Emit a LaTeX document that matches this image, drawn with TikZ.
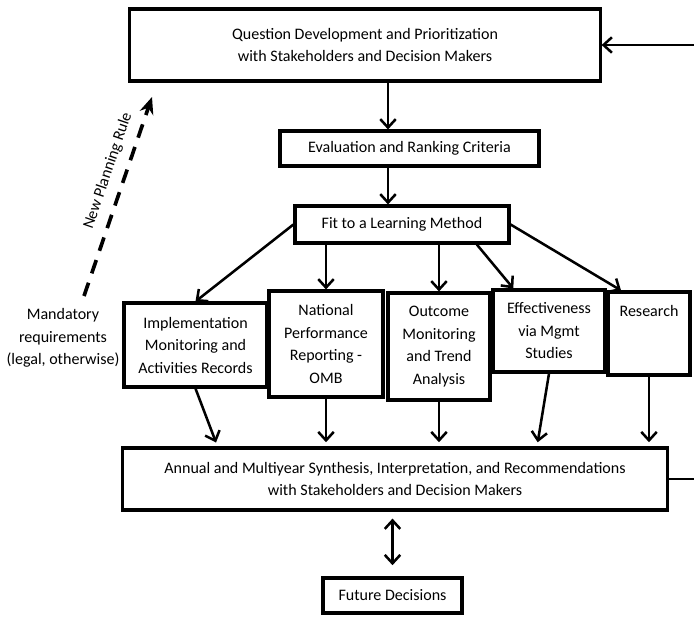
\documentclass[tikz,border=0pt]{standalone}
\usepackage{fontspec}
\setmainfont{Carlito}
\usetikzlibrary{arrows.meta}

\begin{document}
\begin{tikzpicture}[x=0.025cm, y=-0.025cm,
  >={Straight Barb[length=6pt,width=11pt]},
  box/.style={draw, line width=2.2pt, align=center, inner sep=0pt, font=\fontsize{11.4}{16}\selectfont},
  arr/.style={->, line width=1.8pt}]
\useasboundingbox (0,0) rectangle (694,616);
\clip (0,0) rectangle (694,616);

\node[box, minimum width=11.75cm, minimum height=1.8cm] (Question) at (365,45) {Question Development and Prioritization\\with Stakeholders and Decision Makers};
\node[box, minimum width=6.475cm, minimum height=0.875cm] (Eval) at (409.5,148.5) {Evaluation and Ranking Criteria};
\node[box, minimum width=5.35cm, minimum height=0.925cm] (Fit) at (402,224.5) {Fit to a Learning Method};

% methods row
\node[box, minimum width=3.575cm, minimum height=2.1cm] (Impl) at (195.5,345) {Implementation\\Monitoring and\\Activities Records};
\node[box, minimum width=2.85cm, minimum height=2.65cm] (National) at (326,344) {National\\Performance\\Reporting -\\OMB};
\node[box, minimum width=2.55cm, minimum height=2.675cm] (Outcome) at (439,346.5) {Outcome\\Monitoring\\and Trend\\Analysis};
\node[box, minimum width=2.8cm, minimum height=2.05cm] (Effect) at (549,331) {Effectiveness\\via Mgmt\\Studies};
\node[box, minimum width=2.05cm, minimum height=2.075cm] (Research) at (649,333.5) {Research\\\mbox{}\\\mbox{}};

\node[align=center, inner sep=0pt, font=\fontsize{11.4}{16}\selectfont] (Mandatory) at (63,338) {Mandatory\\requirements\\(legal, otherwise)};

\node[box, minimum width=13.6cm, minimum height=1.55cm] (Annual) at (395,479) {Annual and Multiyear Synthesis, Interpretation, and Recommendations\\with Stakeholders and Decision Makers};
\node[box, minimum width=3.475cm, minimum height=0.875cm] (Future) at (392.5,595.5) {Future Decisions};

\coordinate (spine) at (388,0);
\coordinate (loop) at (712,300);
\coordinate (rule start) at (84,296);
\coordinate (rule end) at (152,97);

\draw[arr] (Question.south -| spine) -- (Eval.north -| spine);
\draw[arr] (Eval.south -| spine) -- (Fit.north -| spine);

\draw[arr] (Fit.west) -- (Impl.north);
\draw[arr] (Fit.south -| National.north) -- (National.north);
\draw[arr] (Fit.south -| Outcome.north) -- (Outcome.north);
\draw[arr] (Fit.-15) -- (Effect.130);
\draw[arr] (Fit.east) -- (Research.123);

\draw[arr, shorten >=3pt] (Impl.south) -- ([xshift=0.55cm]Annual.north -| Impl.south);
\draw[arr, shorten >=3pt] (National.south) -- (Annual.north -| National.south);
\draw[arr, shorten >=3pt] (Outcome.south) -- (Annual.north -| Outcome.south);
\draw[arr, shorten >=3pt] (Effect.south) -- ([xshift=-0.3cm]Annual.north -| Effect.south);
\draw[arr, shorten >=3pt] (Research.south) -- (Annual.north -| Research.south);

\draw[arr, <->, shorten <=5pt, shorten >=8pt] (Annual.south -| Future.north) -- (Future.north);

\draw[arr] (Annual.east) -| (loop) |- (Question.east);

\draw[line width=2.6pt, dash pattern=on 10pt off 7pt, -{Stealth[length=12pt,width=10pt]}] (rule start) -- (rule end)
  node[pos=0.6, sloped, above=3pt, font=\fontsize{11.4}{16}\selectfont] {New Planning Rule};
\end{tikzpicture}
\end{document}
